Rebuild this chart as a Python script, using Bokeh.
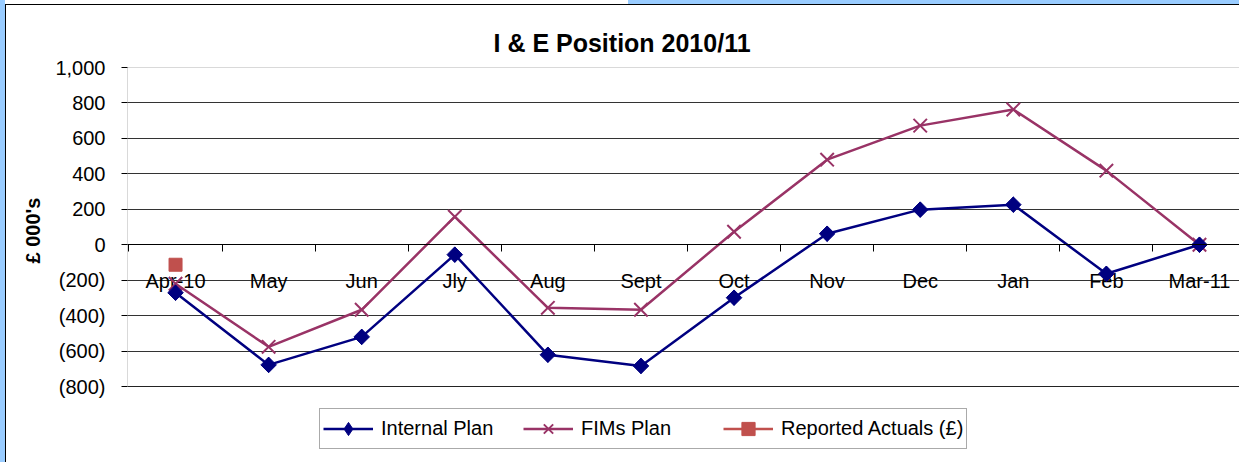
import math
from bokeh.plotting import figure
from bokeh.models import (Range1d, FixedTicker, NumeralTickFormatter, Legend, LegendItem,
                          ColumnDataSource, BoxAnnotation, CustomJSTickFormatter, Title)
from bokeh.core.properties import value
from bokeh.embed import file_html
from bokeh.resources import INLINE

# ---------------- data ----------------
months = ["Apr-10", "May", "Jun", "Jly", "Aug", "Sept", "Oct", "Nov", "Dec", "Jan", "Feb", "Mar-11"]
internal_plan = [-271, -678, -520, -56, -621, -684, -299, 62, 198, 226, -164, 0]
fims_plan = [-220, -576, -367, 158, -356, -367, 73, 480, 672, 763, 418, 0]
reported_months = ["Apr-10"]
reported_actuals = [-113]
y_ticks = [-800, -600, -400, -200, 0, 200, 400, 600, 800, 1000]

FONT = "Liberation Sans"
NAVY = "#000080"
PLUM = "#993366"
RED = "#C0504D"

W, H = 1239, 462
TOP, BOTTOM, LEFT = 67, 10, 127
PLOT_H = 319                     # pixel height of the -800..1000 band
FRAME_H = H - TOP - BOTTOM
Y_MIN, Y_MAX = y_ticks[0], y_ticks[-1]
y_start = Y_MAX - (Y_MAX - Y_MIN) * FRAME_H / PLOT_H
X_START, X_END = -0.516, 11.43

x_idx = list(range(len(months)))
rep_idx = [months.index(m) for m in reported_months]

p = figure(width=W, height=H, output_backend="svg", toolbar_location=None,
           x_range=Range1d(X_START, X_END), y_range=Range1d(y_start, Y_MAX),
           min_border_left=LEFT, min_border_right=0, min_border_top=TOP, min_border_bottom=BOTTOM)
p.outline_line_color = None
p.background_fill_color = "white"
p.border_fill_alpha = 0
p.styles = {"background": (
    "linear-gradient(#000,#000) 5px 4px / 1px 100% no-repeat, "
    "linear-gradient(#000,#000) 5px 4px / 100% 1px no-repeat, "
    "linear-gradient(to right, #99CCFF 5px, #ffffff 5px, #ffffff 628px, #99CCFF 628px) 0 0 / 100% 4px no-repeat, "
    "linear-gradient(to right, #99CCFF 5px, #ffffff 5px) 0 0 / 100% 100% no-repeat")}

# title
p.title.text = "I & E Position 2010/11"
p.title.text_font = FONT
p.title.text_font_size = "25px"
p.title.text_font_style = "bold"
p.title.text_color = "black"
p.title.align = "left"
p.title.offset = 366
p.title.standoff = 22

# grid
p.xgrid.visible = False
p.ygrid.grid_line_color = "#333333"
p.ygrid.grid_line_width = 1
# plot-area frame (left axis line and bottom line at -800)
p.add_layout(BoxAnnotation(left=X_START, right=X_END + 1, bottom=Y_MIN, top=Y_MAX,
                           fill_alpha=0, line_color="black", line_width=1))

# y axis
yax = p.yaxis[0]
yax.ticker = FixedTicker(ticks=y_ticks)
yax.formatter = NumeralTickFormatter(format="(0,0)")
yax.major_tick_out = 6
yax.major_tick_in = 0
yax.minor_tick_line_color = None
yax.axis_line_color = None
yax.major_tick_line_color = "black"
yax.major_label_text_font = FONT
yax.major_label_text_font_size = "20px"
yax.major_label_text_color = "black"
yax.major_label_standoff = 16

ylab = Title(text="£ 000's", align="left", offset=189, standoff=18,
             text_font=FONT, text_font_size="20px", text_font_style="bold", text_color="black")
p.add_layout(ylab, "left")

# x axis at zero: line and category-boundary ticks
xax = p.xaxis[0]
xax.fixed_location = 0
xax.ticker = FixedTicker(ticks=[i - 0.5 for i in range(len(months) + 1)])
xax.formatter = CustomJSTickFormatter(code="return ''")
xax.major_tick_line_color = "black"
xax.major_tick_out = 7
xax.major_tick_in = 0
xax.minor_tick_line_color = None
xax.axis_line_color = "black"
xax.major_label_text_font_size = "1px"
xax.major_label_standoff = 0

# category labels below the zero line
p.text(x=x_idx, y=[0] * len(months), text=months, text_align="center", text_baseline="middle",
       y_offset=36, text_font=value(FONT), text_font_size="20px", text_color="black")

# series
src_int = ColumnDataSource(dict(x=x_idx, y=internal_plan))
src_fim = ColumnDataSource(dict(x=x_idx, y=fims_plan))
src_rep = ColumnDataSource(dict(x=rep_idx, y=reported_actuals))

r_fim_l = p.line("x", "y", source=src_fim, line_color=PLUM, line_width=2.5)
r_fim_m = p.scatter("x", "y", source=src_fim, marker="x", size=19, line_color=PLUM, line_width=2)

r_int_l = p.line("x", "y", source=src_int, line_color=NAVY, line_width=2.5)
# diamond glyph (drawn under the rotated squares; it also gives the legend swatch)
r_int_leg = p.scatter("x", "y", source=src_int, marker="diamond", size=15,
                      fill_color=NAVY, line_color=NAVY)
r_int_m = p.scatter("x", "y", source=src_int, marker="square", size=11, angle=math.pi / 4,
                    fill_color=NAVY, line_color=NAVY)

r_rep_l = p.line("x", "y", source=src_rep, line_color=RED, line_width=2.5)
r_rep_m = p.scatter("x", "y", source=src_rep, marker="square", size=13,
                    fill_color=RED, line_color=RED)

legend = Legend(items=[
    LegendItem(label="Internal Plan", renderers=[r_int_l, r_int_leg]),
    LegendItem(label="FIMs Plan", renderers=[r_fim_l, r_fim_m]),
    LegendItem(label="Reported Actuals (£)", renderers=[r_rep_l, r_rep_m]),
], orientation="horizontal", location=(192, 3))
legend.label_text_font = FONT
legend.label_text_font_size = "20px"
legend.label_text_color = "black"
legend.glyph_width = 50
legend.glyph_height = 33
legend.label_standoff = 8
legend.label_width = 140
legend.spacing = 2
legend.padding = 3
legend.margin = 0
legend.border_line_color = "#555555"
legend.border_line_width = 1
legend.background_fill_color = "white"
legend.background_fill_alpha = 1
p.add_layout(legend, "center")

open("out.html", "w").write(file_html(p, INLINE))
